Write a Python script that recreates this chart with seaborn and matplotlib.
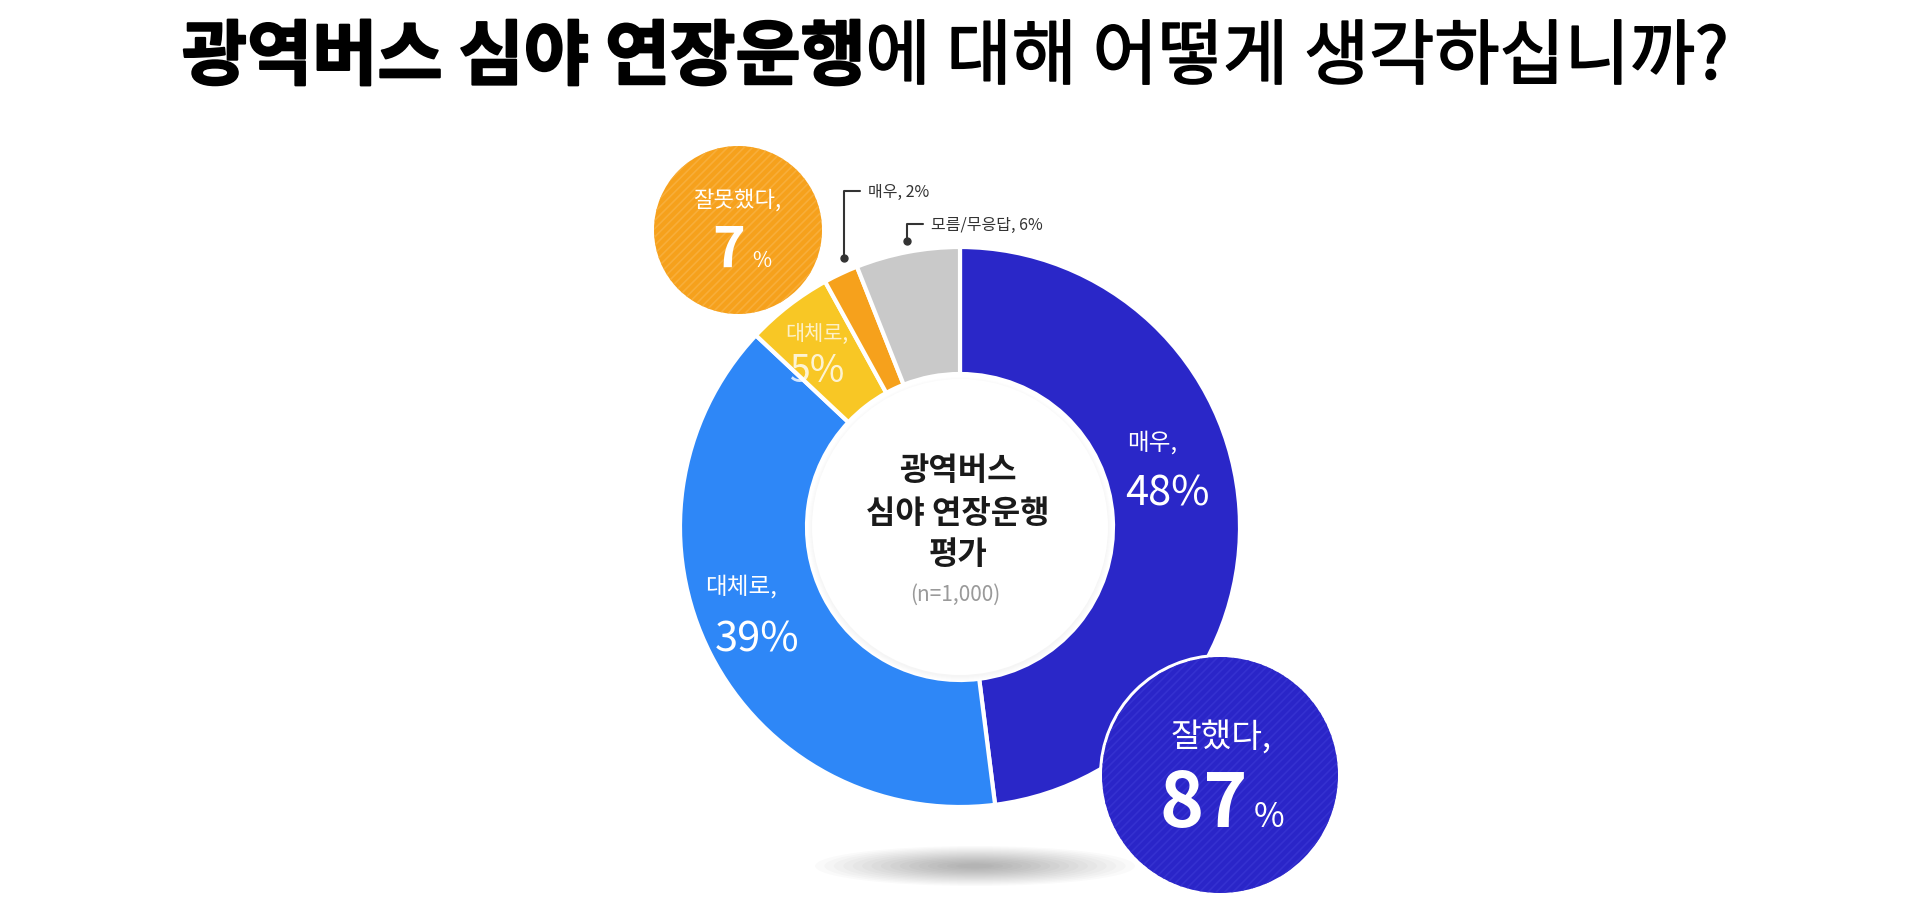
import matplotlib
matplotlib.use('Agg')
import matplotlib.pyplot as plt
import matplotlib.patheffects as pe
from matplotlib.patches import Circle, Ellipse
import seaborn as sns

# survey result (%), clockwise from 12 o'clock
segments = ['매우 잘했다', '대체로 잘했다', '대체로 잘못했다', '매우 잘못했다', '모름/무응답']
shares = [48, 39, 5, 2, 6]
seg_colors = ['#2A27C8', '#2E87F7', '#F8C725', '#F6A11C', '#C9C9C9']
good_total = 87
bad_total = 7

title_bold = '광역버스 심야 연장운행'
title_rest = '에 대해 어떻게 생각하십니까?'
center_lines = ['광역버스', '심야 연장운행', '평가']
sample_note = '(n=1,000)'

sns.set_theme(style='white')
plt.rcParams['font.family'] = ['Noto Sans CJK KR', 'DejaVu Sans']
plt.rcParams['hatch.linewidth'] = 1.2

W, H = 1920, 917
fig = plt.figure(figsize=(W / 100, H / 100), dpi=100)
ax = fig.add_axes([0, 0, 1, 1])

cx, cy, R, hole = 960, 527, 280, 153

# soft shadow under the donut
for i in range(16):
    k = 1 - i / 17
    ax.add_patch(Ellipse((975, 866), 320 * k, 40 * k, color='black', alpha=0.018, lw=0, zorder=0))

# donut (y axis is flipped, so startangle=-90 + counterclock gives clockwise from top)
wedges, _ = ax.pie(shares, colors=seg_colors, startangle=-90, counterclock=True,
                   radius=R, center=(cx, cy),
                   wedgeprops=dict(width=R - hole, edgecolor='white', linewidth=3))
for w in wedges:
    w.set_zorder(2)

# faint shadow around the hole
for i in range(5):
    ax.add_patch(Circle((cx, cy + 2), hole - 1 - i, color='black', alpha=0.006, lw=0, zorder=3))
ax.add_patch(Circle((cx, cy), hole - 5, color='white', lw=0, zorder=3))

ax.set_xlim(0, W)
ax.set_ylim(H, 0)
ax.set_aspect('equal')
ax.axis('off')

# in-ring labels
white = dict(color='white', zorder=5)
ax.text(1127, 443, '매우,', fontsize=17, ha='left', va='center', **white)
ax.text(1125, 505, f'{shares[0]}%', fontsize=30, ha='left', va='baseline', **white)
ax.text(705, 587, '대체로,', fontsize=17, ha='left', va='center', **white)
ax.text(715, 651, f'{shares[1]}%', fontsize=30, ha='left', va='baseline', **white)
ax.text(817, 334, '대체로,', fontsize=15, ha='center', va='center', color='white', alpha=0.75, zorder=5)
ax.text(817, 382, f'{shares[2]}%', fontsize=27, ha='center', va='baseline', color='white', alpha=0.8, zorder=5)

# center caption
for line, y in zip(center_lines, [471, 514, 555]):
    ax.text(958, y, line, fontsize=23, fontweight='bold', ha='center', va='center', color='#1a1a1a', zorder=5)
ax.text(955, 595, sample_note, fontsize=15, ha='center', va='center', color='#9a9a9a', zorder=5)

# small outside labels with leader lines
dark = '#333333'
ax.plot([860, 844, 844], [191, 191, 258], color=dark, lw=1.5, zorder=5)
ax.plot([844], [258], 'o', color=dark, ms=5, zorder=5)
ax.text(868, 192, f'매우, {shares[3]}%', fontsize=11.5, ha='left', va='center', color=dark)
ax.plot([923, 907, 907], [224, 224, 241], color=dark, lw=1.5, zorder=5)
ax.plot([907], [241], 'o', color=dark, ms=5, zorder=5)
ax.text(931, 225, f'모름/무응답, {shares[4]}%', fontsize=11.5, ha='left', va='center', color=dark)

# summary bubbles
ax.add_patch(Circle((738, 230), 84, facecolor='#F6A11C', edgecolor='#F8AE3A', hatch='////', lw=0, zorder=4))
ax.text(737, 200, '잘못했다,', fontsize=16, ha='center', va='center', color='white', zorder=6)
ax.text(745, 267, f'{bad_total}', fontsize=40, fontweight='bold', ha='right', va='baseline', color='white', zorder=6)
ax.text(752, 267, '%', fontsize=15, ha='left', va='baseline', color='white', zorder=6)

ax.add_patch(Circle((1220, 775), 121, facecolor='white', lw=0, zorder=4))
ax.add_patch(Circle((1220, 775), 118, facecolor='#2A25C8', edgecolor='#3531D0', hatch='////', lw=0, zorder=4))
ax.text(1221, 738, '잘했다,', fontsize=24, ha='center', va='center', color='white', zorder=6)
ax.text(1248, 827, f'{good_total}', fontsize=54, fontweight='bold', ha='right', va='baseline', color='white', zorder=6)
ax.text(1254, 827, '%', fontsize=24, ha='left', va='baseline', color='white', zorder=6)

# two-weight title, centred as a whole
t1 = ax.text(0, 58, title_bold, fontsize=51, fontweight='bold', ha='left', va='center', color='black',
             path_effects=[pe.withStroke(linewidth=1.5, foreground='black')])
t2 = ax.text(0, 58, title_rest, fontsize=51, fontweight='medium', ha='left', va='center', color='black',
             path_effects=[pe.withStroke(linewidth=1.2, foreground='black')])
fig.canvas.draw()
rend = fig.canvas.get_renderer()
w1 = t1.get_window_extent(rend).width
w2 = t2.get_window_extent(rend).width
x0 = 955 - (w1 + w2) / 2
t1.set_x(x0)
t2.set_x(x0 + w1)

fig.savefig('out.png', dpi=100, facecolor='white')
